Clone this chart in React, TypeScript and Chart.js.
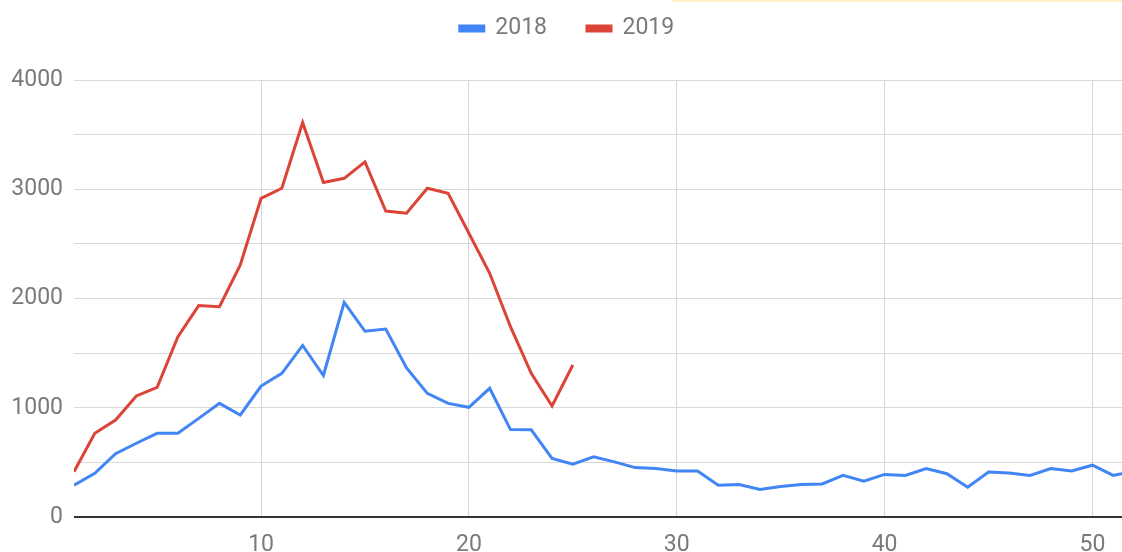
import React, { useEffect, useRef } from "react";
import { Chart, registerables } from "chart.js";

Chart.register(...registerables);

const weeks2018: number[] = Array.from({ length: 52 }, (_, i) => i + 1);
const values2018: number[] = [
  290, 400, 580, 675, 766, 766, 903, 1040, 934, 1199,
  1315, 1570, 1295, 1965, 1700, 1720, 1365, 1132, 1040, 1004,
  1178, 800, 798, 536, 483, 551, 505, 452, 443, 421,
  421, 290, 297, 251, 279, 297, 303, 381, 328, 390,
  381, 443, 396, 272, 412, 402, 381, 443, 421, 474,
  381, 420,
];
const weeks2019: number[] = Array.from({ length: 25 }, (_, i) => i + 1);
const values2019: number[] = [
  415, 766, 888, 1108, 1187, 1650, 1935, 1925, 2307, 2917,
  3009, 3610, 3062, 3100, 3250, 2801, 2780, 3009, 2963, 2597,
  2231, 1742, 1315, 1016, 1391,
];
const seriesNames: string[] = ["2018", "2019"];
const xTickValues: number[] = [10, 20, 30, 40, 50];

const CANVAS_W = 1134;
const OFFSET_TOP = 23;
const CANVAS_H = 517 + OFFSET_TOP + 85;

export default function App() {
  const ref = useRef<HTMLCanvasElement | null>(null);

  useEffect(() => {
    if (!ref.current) return;
    const chart = new Chart(ref.current, {
      type: "line",
      data: {
        datasets: [
          {
            label: seriesNames[0],
            data: weeks2018.map((w, i) => ({ x: w, y: values2018[i] })),
            borderColor: "#4285F4",
            backgroundColor: "#4285F4",
            borderWidth: 3,
            pointRadius: 0,
            tension: 0,
          },
          {
            label: seriesNames[1],
            data: weeks2019.map((w, i) => ({ x: w, y: values2019[i] })),
            borderColor: "#DB4437",
            backgroundColor: "#DB4437",
            borderWidth: 3,
            pointRadius: 0,
            tension: 0,
          },
        ],
      },
      options: {
        animation: false,
        responsive: false,
        maintainAspectRatio: false,
        layout: { padding: 0 },
        plugins: {
          tooltip: { enabled: false },
          legend: {
            position: "top",
            align: "center",
            labels: {
              boxWidth: 24,
              boxHeight: 5,
              padding: 40,
              color: "#7a7a7a",
              font: { family: "Roboto", size: 23 },
            },
          },
        },
        scales: {
          x: {
            type: "linear",
            min: 1,
            max: 52,
            afterBuildTicks: (axis: any) => {
              axis.ticks = xTickValues.map((v) => ({ value: v }));
            },
            afterFit: (axis: any) => {
              axis.height = 85;
            },
            border: { display: false },
            grid: { color: "#d6d6d6", lineWidth: 1, drawTicks: false },
            ticks: {
              padding: 14,
              color: "#7a7a7a",
              font: { family: "Roboto", size: 23 },
              maxRotation: 0,
              autoSkip: false,
            },
          },
          y: {
            type: "linear",
            min: 0,
            max: 4000,
            afterFit: (axis: any) => {
              axis.width = 74;
            },
            border: { display: false },
            grid: {
              color: (ctx: any) => (ctx.tick && ctx.tick.value === 0 ? "#333333" : "#d9d9d9"),
              lineWidth: (ctx: any) => (ctx.tick && ctx.tick.value === 0 ? 2 : 1),
              drawTicks: false,
            },
            ticks: {
              stepSize: 500,
              padding: 11,
              color: "#7a7a7a",
              font: { family: "Roboto", size: 23 },
              callback: (v: any) => (Number(v) % 1000 === 0 ? String(v) : ""),
            },
          },
        },
      },
      plugins: [
        {
          id: "legendHeight",
          beforeInit(c: any) {
            const orig = c.legend.fit;
            c.legend.fit = function () {
              orig.bind(c.legend)();
              this.height = 80 + OFFSET_TOP;
            };
          },
        },
      ],
    });
    return () => chart.destroy();
  }, []);

  return (
    <div
      style={{
        position: "absolute",
        left: 0,
        top: 0,
        width: 1122,
        height: 552,
        overflow: "hidden",
        background: "#ffffff",
      }}
    >
      <div
        style={{
          position: "absolute",
          left: 672,
          top: 0,
          width: 450,
          height: 2,
          background: "#ffefc4",
          zIndex: 2,
        }}
      />
      <div
        style={{
          position: "absolute",
          left: 0,
          top: -OFFSET_TOP,
          width: CANVAS_W,
          height: CANVAS_H,
        }}
      >
        <canvas
          ref={ref}
          width={CANVAS_W}
          height={CANVAS_H}
          style={{ width: CANVAS_W, height: CANVAS_H }}
        />
      </div>
    </div>
  );
}
